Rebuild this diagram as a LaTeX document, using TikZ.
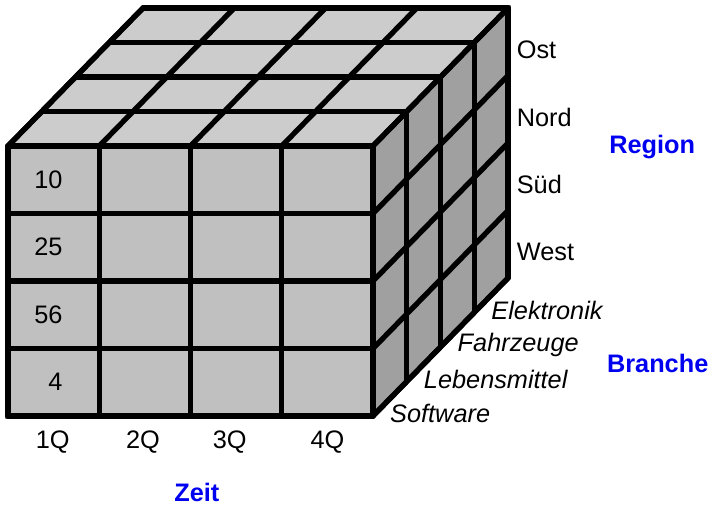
\documentclass[tikz,border=0pt]{standalone}
\usepackage{fontspec}
\setmainfont{Liberation Sans}
\usetikzlibrary{positioning,calc}

\definecolor{frontgray}{HTML}{C0C0C0}
\definecolor{topgray}{HTML}{CCCCCC}
\definecolor{sidegray}{HTML}{A0A0A0}
\definecolor{dimblue}{HTML}{0000F0}

\begin{document}
\begin{tikzpicture}[x={(1.825cm,0cm)},y={(0cm,1.35cm)},z={(0.675cm,0.69cm)},
  grid/.style={line width=3pt,line cap=round,line join=round},
  outline/.style={line width=3pt,line join=miter},
  member/.style={font=\fontsize{14.4}{16}\selectfont,inner sep=0pt},
  branch/.style={font=\fontsize{14.4}{16}\selectfont\itshape,inner sep=0pt,anchor=west},
  dimension/.style={font=\fontsize{14.4}{16}\selectfont\bfseries,text=dimblue,inner sep=0pt}]
  \useasboundingbox (-0.16cm,-1.8cm) rectangle (14.04cm,8.32cm);
  % faces of the cube
  \fill[frontgray] (0,0,0) -- (4,0,0) -- (4,4,0) -- (0,4,0) -- cycle;
  \fill[topgray] (0,4,0) -- (4,4,0) -- (4,4,4) -- (0,4,4) -- cycle;
  \fill[sidegray] (4,0,0) -- (4,0,4) -- (4,4,4) -- (4,4,0) -- cycle;
  % cell grid on the three faces
  \foreach \i in {0,...,4} {
    \draw[grid] (\i,0,0) -- (\i,4,0);
    \draw[grid] (0,\i,0) -- (4,\i,0);
    \draw[grid] (\i,4,0) -- (\i,4,4);
    \draw[grid] (0,4,\i) -- (4,4,\i);
    \draw[grid] (4,\i,0) -- (4,\i,4);
    \draw[grid] (4,0,\i) -- (4,4,\i);
  }
  % outer edge
  \draw[outline] (0,0,0) -- (4,0,0) -- (4,0,4) -- (4,4,4) -- (0,4,4) -- (0,4,0) -- cycle;
  % values in the first column
  \foreach \v [count=\r] in {4,56,25,10}
    \node[member,anchor=east] (val\r) at (0.6,\r-0.5,0) {\v};
  % quarters
  \foreach \x/\q in {0.49/1Q,1.48/2Q,2.43/3Q,3.5/4Q}
    \node[member] (q\q) at (\x,-0.39,0) {\q};
  % regions
  \foreach \r/\name/\id in {3/Ost/ost,2/Nord/nord,1/Süd/sued,0/West/west}
    \node[member,anchor=west,xshift=0.17cm,yshift=-0.16cm] (\id) at (4,\r+0.5,4) {\name};
  % branches
  \foreach \z/\name/\id in {0/Software/soft,1/Lebensmittel/food,2/Fahrzeuge/cars,3/Elektronik/elec}
    \node[branch,yshift=-0.3cm] (\id) at (4,0,\z+0.5) {\name};
  % dimension names
  \node[dimension] (region) at (7.06,3.99,0) {Region};
  \node[dimension] (branche) at (7.12,0.785,0) {Branche};
  \node[dimension] (zeit) at (2.07,-1.126,0) {Zeit};
\end{tikzpicture}
\end{document}
